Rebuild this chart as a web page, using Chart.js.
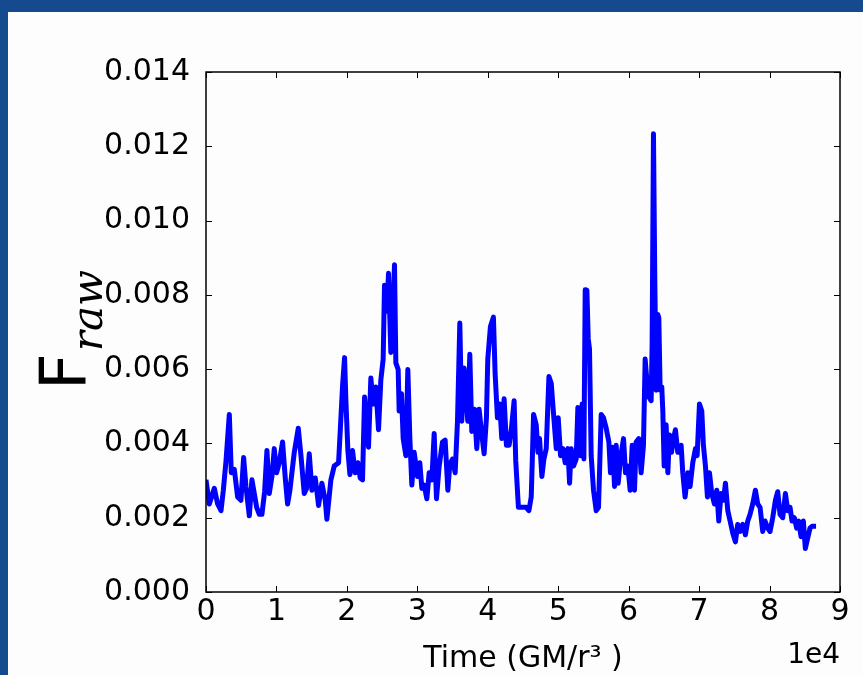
<!DOCTYPE html>
<html><head><meta charset="utf-8">
<script src="https://cdn.jsdelivr.net/npm/chart.js@4.4.1/dist/chart.umd.min.js"></script>
<style>
html,body{margin:0;padding:0;width:863px;height:675px;overflow:hidden;background:#164a8e;}
#panel{position:absolute;left:8px;top:12px;width:855px;height:663px;background:#fdfdfd;}
#wrap{position:absolute;left:0;top:0;width:863px;height:675px;}
</style></head><body>
<div id="panel"></div>
<div id="wrap"><canvas id="c" width="863" height="675"></canvas></div>
<script>
// Time in GM/c^3 units
const times = [
 0, 470, 1180, 1650, 2130, 2460, 2840, 3310, 3590, 4020,
 4490, 4960, 5340, 5670, 6150, 6520, 6860, 7190, 7570, 7940,
 8320, 8650, 8980, 9360, 9690, 10020, 10400, 10870, 11250, 11580,
 11910, 12530, 13100, 13480, 13950, 14280, 14660, 15040, 15510, 15980,
 16450, 16930, 17160, 17730, 18200, 18820, 19100, 19390, 19670, 19860,
 20140, 20430, 20800, 21180, 21560, 21890, 22220, 22510, 22790, 23070,
 23400, 23740, 24110, 24490, 24820, 25150, 25340, 25670, 25910, 26240,
 26480, 26760, 26950, 27280, 27420, 27750, 27990, 28370, 28650, 28940,
 29220, 29550, 30020, 30350, 30640, 30970, 31350, 31680, 32060, 32390,
 32720, 33100, 33570, 33950, 34330, 34610, 34990, 35370, 35700, 36030,
 36310, 36640, 36880, 37160, 37450, 37730, 38110, 38440, 38770, 39050,
 39480, 39810, 40000, 40380, 40800, 41040, 41370, 41700, 41990, 42320,
 42650, 43030, 43360, 43740, 43970, 44350, 44990, 45460, 45840, 46170,
 46500, 46880, 47120, 47350, 47680, 47970, 48300, 48680, 49010, 49340,
 49720, 50000, 50330, 50660, 50990, 51370, 51610, 51840, 52170, 52550,
 52790, 53120, 53400, 53640, 53830, 54070, 54260, 54440, 54680, 55010,
 55390, 55720, 56100, 56430, 56810, 57190, 57420, 57750, 57990, 58230,
 58510, 58890, 59270, 59550, 59880, 60210, 60500, 60830, 61060, 61440,
 61770, 62100, 62340, 62580, 62860, 63190, 63330, 63520, 63710, 63900,
 64140, 64280, 64470, 64700, 64850, 65040, 65320, 65560, 65790, 66080,
 66360, 66640, 66970, 67450, 67680, 68010, 68390, 68720, 69100, 69480,
 69720, 70050, 70380, 70610, 70900, 71180, 71470, 71800, 72170, 72510,
 72790, 73120, 73450, 73740, 74070, 74400, 74780, 75150, 75480, 75820,
 76190, 76570, 76900, 77230, 77610, 77990, 78320, 78650, 79030, 79360,
 79740, 80070, 80450, 80830, 81160, 81490, 81870, 82250, 82580, 82910,
 83190, 83520, 83850, 84140, 84470, 84800, 85080, 85410, 85740, 86030, 86600
];
// F_raw values
const flux = [
 0.00302, 0.00237, 0.00279, 0.00237, 0.00219, 0.00274, 0.00353, 0.00478, 0.00321, 0.00330,
 0.00256, 0.00247, 0.00362, 0.00284, 0.00205, 0.00302, 0.00265, 0.00228, 0.00209, 0.00209,
 0.00270, 0.00381, 0.00265, 0.00311, 0.00386, 0.00321, 0.00348, 0.00404, 0.00307, 0.00237,
 0.00274, 0.00376, 0.00441, 0.00367, 0.00265, 0.00279, 0.00372, 0.00274, 0.00307, 0.00233,
 0.00293, 0.00247, 0.00196, 0.00302, 0.00339, 0.00348, 0.00450, 0.00557, 0.00631, 0.00515,
 0.00381, 0.00316, 0.00381, 0.00321, 0.00348, 0.00307, 0.00302, 0.00525, 0.00460, 0.00390,
 0.00576, 0.00506, 0.00552, 0.00437, 0.00571, 0.00627, 0.00826, 0.00756, 0.00858, 0.00645,
 0.00728, 0.00881, 0.00617, 0.00599, 0.00487, 0.00534, 0.00413, 0.00367, 0.00599, 0.00413,
 0.00288, 0.00376, 0.00311, 0.00348, 0.00279, 0.00288, 0.00251, 0.00321, 0.00302, 0.00427,
 0.00251, 0.00339, 0.00404, 0.00409, 0.00274, 0.00344, 0.00358, 0.00321, 0.00460, 0.00724,
 0.00460, 0.00603, 0.00543, 0.00460, 0.00640, 0.00432, 0.00492, 0.00386, 0.00492, 0.00441,
 0.00372, 0.00469, 0.00627, 0.00715, 0.00740, 0.00589, 0.00469, 0.00506, 0.00413, 0.00520,
 0.00395, 0.00395, 0.00441, 0.00515, 0.00353, 0.00228, 0.00228, 0.00228, 0.00219, 0.00256,
 0.00478, 0.00450, 0.00376, 0.00413, 0.00311, 0.00358, 0.00386, 0.00580, 0.00562, 0.00478,
 0.00386, 0.00469, 0.00367, 0.00386, 0.00348, 0.00386, 0.00293, 0.00386, 0.00339, 0.00358,
 0.00497, 0.00367, 0.00506, 0.00358, 0.00814, 0.00812, 0.00682, 0.00654, 0.00367, 0.00274,
 0.00219, 0.00228, 0.00478, 0.00469, 0.00441, 0.00404, 0.00321, 0.00390, 0.00284, 0.00395,
 0.00293, 0.00367, 0.00413, 0.00321, 0.00339, 0.00274, 0.00395, 0.00274, 0.00404, 0.00413,
 0.00321, 0.00395, 0.00627, 0.00571, 0.00525, 0.00515, 0.00664, 0.01234, 0.00840, 0.00543,
 0.00747, 0.00738, 0.00543, 0.00552, 0.00487, 0.00339, 0.00450, 0.00321, 0.00423, 0.00376,
 0.00413, 0.00437, 0.00376, 0.00395, 0.00321, 0.00256, 0.00321, 0.00284, 0.00348, 0.00386,
 0.00367, 0.00506, 0.00487, 0.00395, 0.00339, 0.00256, 0.00321, 0.00265, 0.00237, 0.00274,
 0.00191, 0.00265, 0.00247, 0.00293, 0.00219, 0.00191, 0.00158, 0.00135, 0.00182, 0.00163,
 0.00182, 0.00154, 0.00191, 0.00209, 0.00237, 0.00274, 0.00237, 0.00228, 0.00163, 0.00191,
 0.00172, 0.00163, 0.00200, 0.00247, 0.00270, 0.00209, 0.00200, 0.00265, 0.00219, 0.00228,
 0.00191, 0.00200, 0.00172, 0.00191, 0.00149, 0.00191, 0.00117, 0.00145, 0.00172, 0.00177, 0.00177
];
const xTickLabels = ['0','1','2','3','4','5','6','7','8','9'];
const yTickLabels = ['0.000','0.002','0.004','0.006','0.008','0.010','0.012','0.014'];
const xOffsetText = '1e4';
const xTitle = 'Time (GM/r\u00B3 )';
const yTitleMain = 'F';
const yTitleSub = 'raw';

const FONT = '"DejaVu Sans", "Liberation Sans", Arial, sans-serif';

const decor = {
  id: 'decor',
  afterDraw(chart) {
    const c = chart.ctx, a = chart.chartArea;
    const xs = chart.scales.x, ys = chart.scales.y;
    c.save();
    c.strokeStyle = '#000';
    c.lineWidth = 1;
    c.beginPath();
    xs.ticks.forEach(t => {
      const p = Math.round(xs.getPixelForValue(t.value)) + 0.5;
      c.moveTo(p, a.bottom); c.lineTo(p, a.bottom - 6);
      c.moveTo(p, a.top); c.lineTo(p, a.top + 6);
    });
    ys.ticks.forEach(t => {
      const p = Math.round(ys.getPixelForValue(t.value)) + 0.5;
      c.moveTo(a.left, p); c.lineTo(a.left + 6, p);
      c.moveTo(a.right, p); c.lineTo(a.right - 6, p);
    });
    c.stroke();
    c.lineWidth = 1.5;
    c.strokeRect(a.left, a.top, a.right - a.left, a.bottom - a.top);
    // offset text
    c.fillStyle = '#000';
    c.font = '28px ' + FONT;
    c.textAlign = 'right';
    c.textBaseline = 'middle';
    c.fillText(xOffsetText, a.right, 656);
    // y title
    c.translate(85, 390);
    c.rotate(-Math.PI / 2);
    c.textAlign = 'left';
    c.textBaseline = 'alphabetic';
    c.font = '64px ' + FONT;
    c.fillText(yTitleMain, 0, 0);
    const w = c.measureText(yTitleMain).width;
    c.font = 'italic 42px "DejaVu Serif", "Liberation Serif", serif';
    c.fillText(yTitleSub, w + 2, 17);
    c.restore();
  }
};

new Chart(document.getElementById('c').getContext('2d'), {
  type: 'line',
  data: {
    datasets: [{
      data: times.map((t, i) => ({ x: t, y: flux[i] })),
      borderColor: '#0000ff',
      borderWidth: 5,
      pointRadius: 0,
      tension: 0,
      fill: false,
      borderJoinStyle: 'round'
    }]
  },
  options: {
    responsive: false,
    animation: false,
    devicePixelRatio: 1,
    layout: { padding: { left: 0, top: 72, right: 23, bottom: 0 } },
    plugins: { legend: { display: false }, tooltip: { enabled: false } },
    scales: {
      x: {
        type: 'linear', min: 0, max: 90000,
        grid: { display: false }, border: { display: false },
        ticks: {
          stepSize: 10000, autoSkip: false, maxRotation: 0, minRotation: 0, padding: -6,
          color: '#000', font: { family: FONT, size: 30 },
          callback: (v, i) => xTickLabels[i]
        },
        title: { display: true, text: xTitle, color: '#000', font: { family: FONT, size: 30 }, padding: { top: 0, bottom: -2 } },
        afterFit(s) { s.height = 83; }
      },
      y: {
        min: 0, max: 0.014,
        grid: { display: false }, border: { display: false },
        ticks: {
          stepSize: 0.002, autoSkip: false, padding: 8,
          color: '#000', font: { family: FONT, size: 30 },
          callback: (v, i) => yTickLabels[i]
        },
        afterFit(s) { s.width = 206; }
      }
    }
  },
  plugins: [decor]
});
</script>
</body></html>
